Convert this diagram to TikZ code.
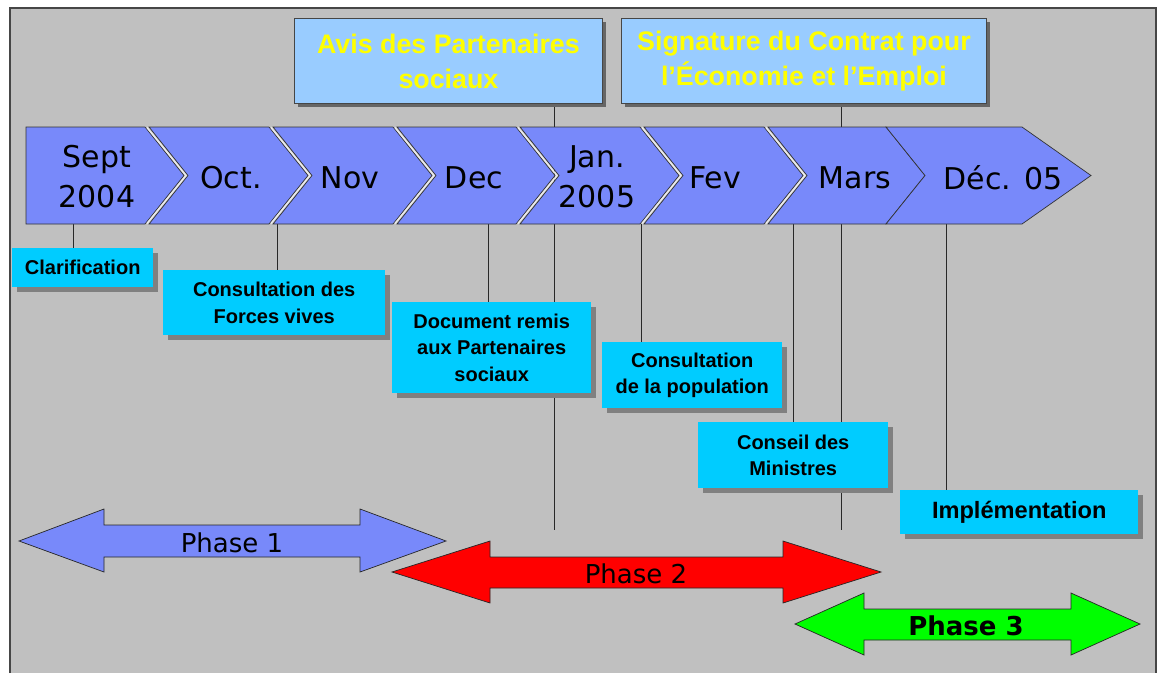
\documentclass[tikz,border=0pt]{standalone}
\usepackage{fontspec}
\setmainfont{DejaVu Sans}
\newfontfamily\arialf{Liberation Sans}
\usetikzlibrary{shadows}
\pgfdeclarelayer{bgfill}
\pgfdeclarelayer{lines}
\pgfsetlayers{bgfill,lines,main}
\definecolor{bg}{RGB}{192,192,192}
\definecolor{chev}{RGB}{120,137,250}
\definecolor{topbox}{RGB}{153,204,255}
\definecolor{evbox}{RGB}{0,204,255}
\definecolor{shad}{RGB}{128,128,128}
\definecolor{frm}{RGB}{70,70,70}
\definecolor{lnk}{RGB}{40,40,40}
\definecolor{ylw}{RGB}{255,255,0}
\definecolor{pgreen}{RGB}{0,255,0}
\definecolor{pred}{RGB}{255,0,0}
\tikzset{
  chevshape/.style={fill=chev,draw=black!80,line width=0.7pt,line join=miter},
  chevgap/.style={draw=white!85!gray,line width=1.4pt},
  monthlbl/.style={font=\fontsize{30}{40}\selectfont,align=center,inner sep=0pt,text=black},
  topstyle/.style={fill=topbox,draw=frm,line width=0.9pt,anchor=north west,inner sep=0pt,
     align=center,text=ylw,font=\arialf\bfseries\fontsize{26.8}{35}\selectfont,
     drop shadow={shadow xshift=4pt,shadow yshift=-4pt,fill=black!60,opacity=1}},
  evstyle/.style={fill=evbox,draw=none,anchor=north west,inner sep=0pt,align=center,
     text=black,font=\arialf\bfseries\fontsize{20}{26.5}\selectfont,
     drop shadow={shadow xshift=5pt,shadow yshift=-5pt,fill=shad,opacity=1}},
  linkline/.style={draw=lnk,line width=0.9pt},
  phaseshape/.style={draw=black!85,line width=0.7pt,line join=miter},
  phaselbl/.style={inner sep=0pt,text=black,font=\fontsize{26}{30}\selectfont}
}
\begin{document}
\begin{tikzpicture}[x=1pt,y=-1pt]
\useasboundingbox (0,0) rectangle (1161,673);
% background frame
\begin{pgfonlayer}{bgfill}
\fill[bg] (10,8) rectangle (1156,673);
\draw[frm,line width=1.6pt] (10,673) -- (10,8) -- (1156,8) -- (1156,673);
\end{pgfonlayer}

% top boxes
\node[topstyle,minimum width=308pt,minimum height=85pt] (avis) at (294,18)
  {Avis des Partenaires\\sociaux};
\node[topstyle,minimum width=365pt,minimum height=85pt] (sign) at (621,18)
  {Signature du Contrat pour\\l’Économie et l’Emploi};

% event boxes
\node[evstyle,minimum width=141pt,minimum height=39pt] (clar) at (12,248) {Clarification};
\node[evstyle,minimum width=222pt,minimum height=65pt] (forces) at (163,270) {Consultation des\\Forces vives};
\node[evstyle,minimum width=199pt,minimum height=91pt] (docu) at (392,302) {Document remis\\aux Partenaires\\sociaux};
\node[evstyle,minimum width=180pt,minimum height=66pt] (popu) at (602,342) {Consultation\\de la population};
\node[evstyle,minimum width=190pt,minimum height=66pt] (cons) at (698,422) {Conseil des\\Ministres};
\node[evstyle,minimum width=238pt,minimum height=44pt,font=\arialf\bfseries\fontsize{23.6}{28}\selectfont] (impl) at (900,490) {Implémentation};

% connector anchors
\coordinate (avisend) at (554,530);
\coordinate (signend) at (841,530);
\coordinate (k1) at (73,224);
\coordinate (k2) at (277,224);
\coordinate (k3) at (488,224);
\coordinate (k4) at (641,224);
\coordinate (k5) at (793,224);
\coordinate (k6) at (946,224);

% connectors (behind chevrons and boxes)
\begin{pgfonlayer}{lines}
\draw[linkline] (avis.south -| avisend) -- (avisend);
\draw[linkline] (sign.south -| signend) -- (signend);
\draw[linkline] (k1) -- (k1 |- clar.north);
\draw[linkline] (k2) -- (k2 |- forces.north);
\draw[linkline] (k3) -- (k3 |- docu.north);
\draw[linkline] (k4) -- (k4 |- popu.north);
\draw[linkline] (k5) -- (k5 |- cons.north);
\draw[linkline] (k6) -- (k6 |- impl.north);
\end{pgfonlayer}

% chevrons
\path[chevshape] (26,127) -- (145,127) -- (184,175.5) -- (145,224) -- (26,224) -- cycle;
\foreach \xa/\xb/\tp in {149/269/39,273/393/39,397/516/39,520/640/39,644/764/39,768/886/39,886/1022/69}{
  \path[chevshape] (\xa,127) -- (\xb,127) -- (\xb+\tp,175.5) -- (\xb,224) -- (\xa,224) -- (\xa+39,175.5) -- cycle;
}
\foreach \xg in {147,271,395,518,642,766}{
  \draw[chevgap] (\xg,127.5) -- (\xg+39,175.5) -- (\xg,223.5);
}
\node[monthlbl] (m1) at (97,177) {Sept\\2004};
\node[monthlbl] (m2) at (231,178) {Oct.};
\node[monthlbl] (m3) at (350,178) {Nov};
\node[monthlbl] (m4) at (474,178) {Dec};
\node[monthlbl] (m5) at (597,177) {Jan.\\2005};
\node[monthlbl] (m6) at (715,178) {Fev};
\node[monthlbl] (m7) at (855,178) {Mars};
\node[monthlbl] (m8) at (1003,178) {Déc. 05};

% phases
\path[phaseshape,fill=chev] (19,541) -- (104,509) -- (104,525) -- (360,525) -- (360,509) -- (446,541)
  -- (360,572) -- (360,557) -- (104,557) -- (104,572) -- cycle;
\node[phaselbl] (p1) at (232,543) {Phase 1};
\path[phaseshape,fill=pred] (392,572) -- (490,541) -- (490,557) -- (783,557) -- (783,541) -- (881,572)
  -- (783,603) -- (783,588) -- (490,588) -- (490,603) -- cycle;
\node[phaselbl] (p2) at (636,574) {Phase 2};
\path[phaseshape,fill=pgreen] (795,624) -- (864,593) -- (864,609) -- (1071,609) -- (1071,593) -- (1140,624)
  -- (1071,655) -- (1071,640) -- (864,640) -- (864,655) -- cycle;
\node[phaselbl,font=\bfseries\fontsize{26}{30}\selectfont] (p3) at (966,626) {Phase 3};
\end{tikzpicture}
\end{document}
